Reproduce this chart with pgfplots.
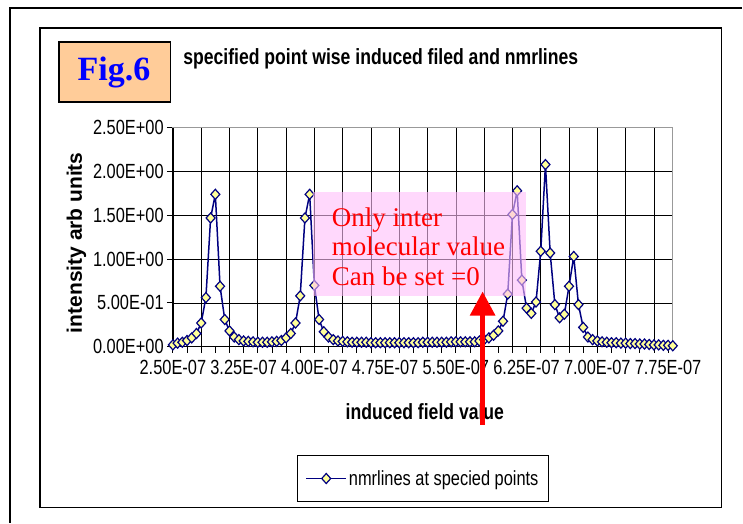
\documentclass[border=0pt]{standalone}
\usepackage{fontspec}
\setmainfont{Liberation Sans}
\newfontfamily\condfont[FakeStretch=0.8]{Liberation Sans}
\newfontfamily\seriffont{Liberation Serif}
\usepackage{pgfplots}
\pgfplotsset{compat=1.18}
\definecolor{navyline}{RGB}{0,0,128}
\definecolor{markfill}{RGB}{255,255,153}
\definecolor{peach}{RGB}{255,204,153}
\definecolor{pinkbox}{RGB}{255,190,250}

\pgfplotstableread{
x y
2.50 0.02
2.55 0.04
2.60 0.05
2.65 0.07
2.70 0.10
2.75 0.15
2.80 0.27
2.85 0.56
2.90 1.47
2.95 1.74
3.00 0.69
3.05 0.31
3.10 0.18
3.15 0.11
3.20 0.08
3.25 0.065
3.30 0.06
3.35 0.055
3.40 0.05
3.45 0.05
3.50 0.05
3.55 0.055
3.60 0.06
3.65 0.07
3.70 0.10
3.75 0.15
3.80 0.27
3.85 0.58
3.90 1.47
3.95 1.74
4.00 0.70
4.05 0.31
4.10 0.17
4.15 0.11
4.20 0.08
4.25 0.065
4.30 0.06
4.35 0.055
4.40 0.05
4.45 0.05
4.50 0.05
4.55 0.05
4.60 0.045
4.65 0.045
4.70 0.045
4.75 0.045
4.80 0.045
4.85 0.045
4.90 0.045
4.95 0.045
5.00 0.045
5.05 0.045
5.10 0.045
5.15 0.05
5.20 0.05
5.25 0.05
5.30 0.05
5.35 0.05
5.40 0.05
5.45 0.055
5.50 0.055
5.55 0.055
5.60 0.055
5.65 0.055
5.70 0.055
5.75 0.065
5.80 0.08
5.85 0.10
5.90 0.13
5.95 0.18
6.00 0.29
6.05 0.60
6.10 1.51
6.15 1.78
6.20 0.76
6.25 0.44
6.30 0.38
6.35 0.51
6.40 1.09
6.45 2.08
6.50 1.07
6.55 0.48
6.60 0.33
6.65 0.37
6.70 0.69
6.75 1.03
6.80 0.48
6.85 0.22
6.90 0.11
6.95 0.08
7.00 0.065
7.05 0.055
7.10 0.05
7.15 0.045
7.20 0.045
7.25 0.04
7.30 0.04
7.35 0.035
7.40 0.035
7.45 0.03
7.50 0.03
7.55 0.025
7.60 0.02
7.65 0.02
7.70 0.015
7.75 0.015
7.80 0.01
}\nmrdata

\begin{document}
\begin{tikzpicture}[x=1pt,y=1pt]
\path (0,0) rectangle (743,523);
% frames
\draw[line width=1.2pt] (10,0) -- (10,515) -- (743,515);
\draw[line width=1.2pt] (40,15) rectangle (722,495);
% Fig.6 box and title
\draw[fill=peach, line width=1.2pt] (59,421) rectangle (171,481);
\node[font=\seriffont\bfseries\fontsize{34}{34}\selectfont, text=blue] at (114,450) {Fig.6};
\node[anchor=west, font=\condfont\bfseries\fontsize{22}{22}\selectfont] at (180,464) {specified point wise induced filed and nmrlines};

\begin{axis}[
  at={(183.3,201)}, anchor=south west,
  width=500.3pt, height=219pt, scale only axis,
  xmin=2.5, xmax=7.8, ymin=0, ymax=2.5,
  clip mode=individual,
  axis line style={gray!80, line width=1.2pt},
  tick pos=left,
  xtick={2.5,2.8,3.1,3.4,3.7,4.0,4.3,4.6,4.9,5.2,5.5,5.8,6.1,6.4,6.7,7.0,7.3,7.6},
  xticklabels={},
  minor xtick={2.65,2.95,3.25,3.55,3.85,4.15,4.45,4.75,5.05,5.35,5.65,5.95,6.25,6.55,6.85,7.15,7.45,7.75},
  extra x ticks={2.5,3.25,4.0,4.75,5.5,6.25,7.0,7.75},
  extra x tick labels={2.50E-07,3.25E-07,4.00E-07,4.75E-07,5.50E-07,6.25E-07,7.00E-07,7.75E-07},
  extra x tick style={grid=none},
  ytick={0,0.5,1,1.5,2,2.5},
  yticklabels={0.00E+00,5.00E-01,1.00E+00,1.50E+00,2.00E+00,2.50E+00},
  xmajorgrids, ymajorgrids,
  major grid style={black, line width=0.7pt},
  tick align=outside,
  major tick length=6pt, minor tick length=6pt,
  tick style={black, line width=0.8pt},
  tick label style={font=\condfont\fontsize{20.5}{20.5}\selectfont, inner sep=0pt},
  xticklabel style={anchor=north, yshift=-7pt},
  yticklabel style={anchor=east, xshift=-3pt},
  xlabel={induced field value},
  xlabel style={at={(axis description cs:0.504,-0.296)}, anchor=center, font=\condfont\bfseries\fontsize{22}{22}\selectfont},
  ylabel={intensity arb units},
  ylabel style={at={(axis description cs:-0.193,0.475)}, anchor=center, font=\bfseries\fontsize{21}{21}\selectfont},
  legend style={at={(axis description cs:0.2485,-0.495)}, anchor=north west, draw=black, line width=0.8pt,
    font=\condfont\fontsize{20.5}{20.5}\selectfont, inner xsep=8pt, inner ysep=13pt},
  legend image code/.code={\draw[mark repeat=2,mark phase=2] plot coordinates {(0pt,0pt) (20pt,0pt) (40pt,0pt)};},
]
\draw[black, line width=1pt] (rel axis cs:0,1) -- (rel axis cs:0,0) -- (rel axis cs:1,0);
\addplot[color=navyline, line width=1.5pt, mark=diamond*, mark size=5pt,
  mark options={fill=markfill, draw=navyline, line width=1.2pt, xscale=1.2}] table[x=x, y=y] {\nmrdata};
\addlegendentry{nmrlines at specied points}
\end{axis}

% annotation box over the chart
\fill[pinkbox, fill opacity=0.6] (313,227) rectangle (526,331);
\begin{scope}[font=\seriffont\fontsize{27}{27}\selectfont, text=red]
\node[anchor=base west, inner sep=0pt] at (332,296.5) {Only inter};
\node[anchor=base west, inner sep=0pt] at (332,267) {molecular value};
\node[anchor=base west, inner sep=0pt] at (332,237.5) {Can be set =0};
\end{scope}
% red arrow
\draw[red, line width=4.5pt] (483,98) -- (483,208);
\fill[red] (470,207) -- (496,207) -- (483,231) -- cycle;
\end{tikzpicture}
\end{document}
